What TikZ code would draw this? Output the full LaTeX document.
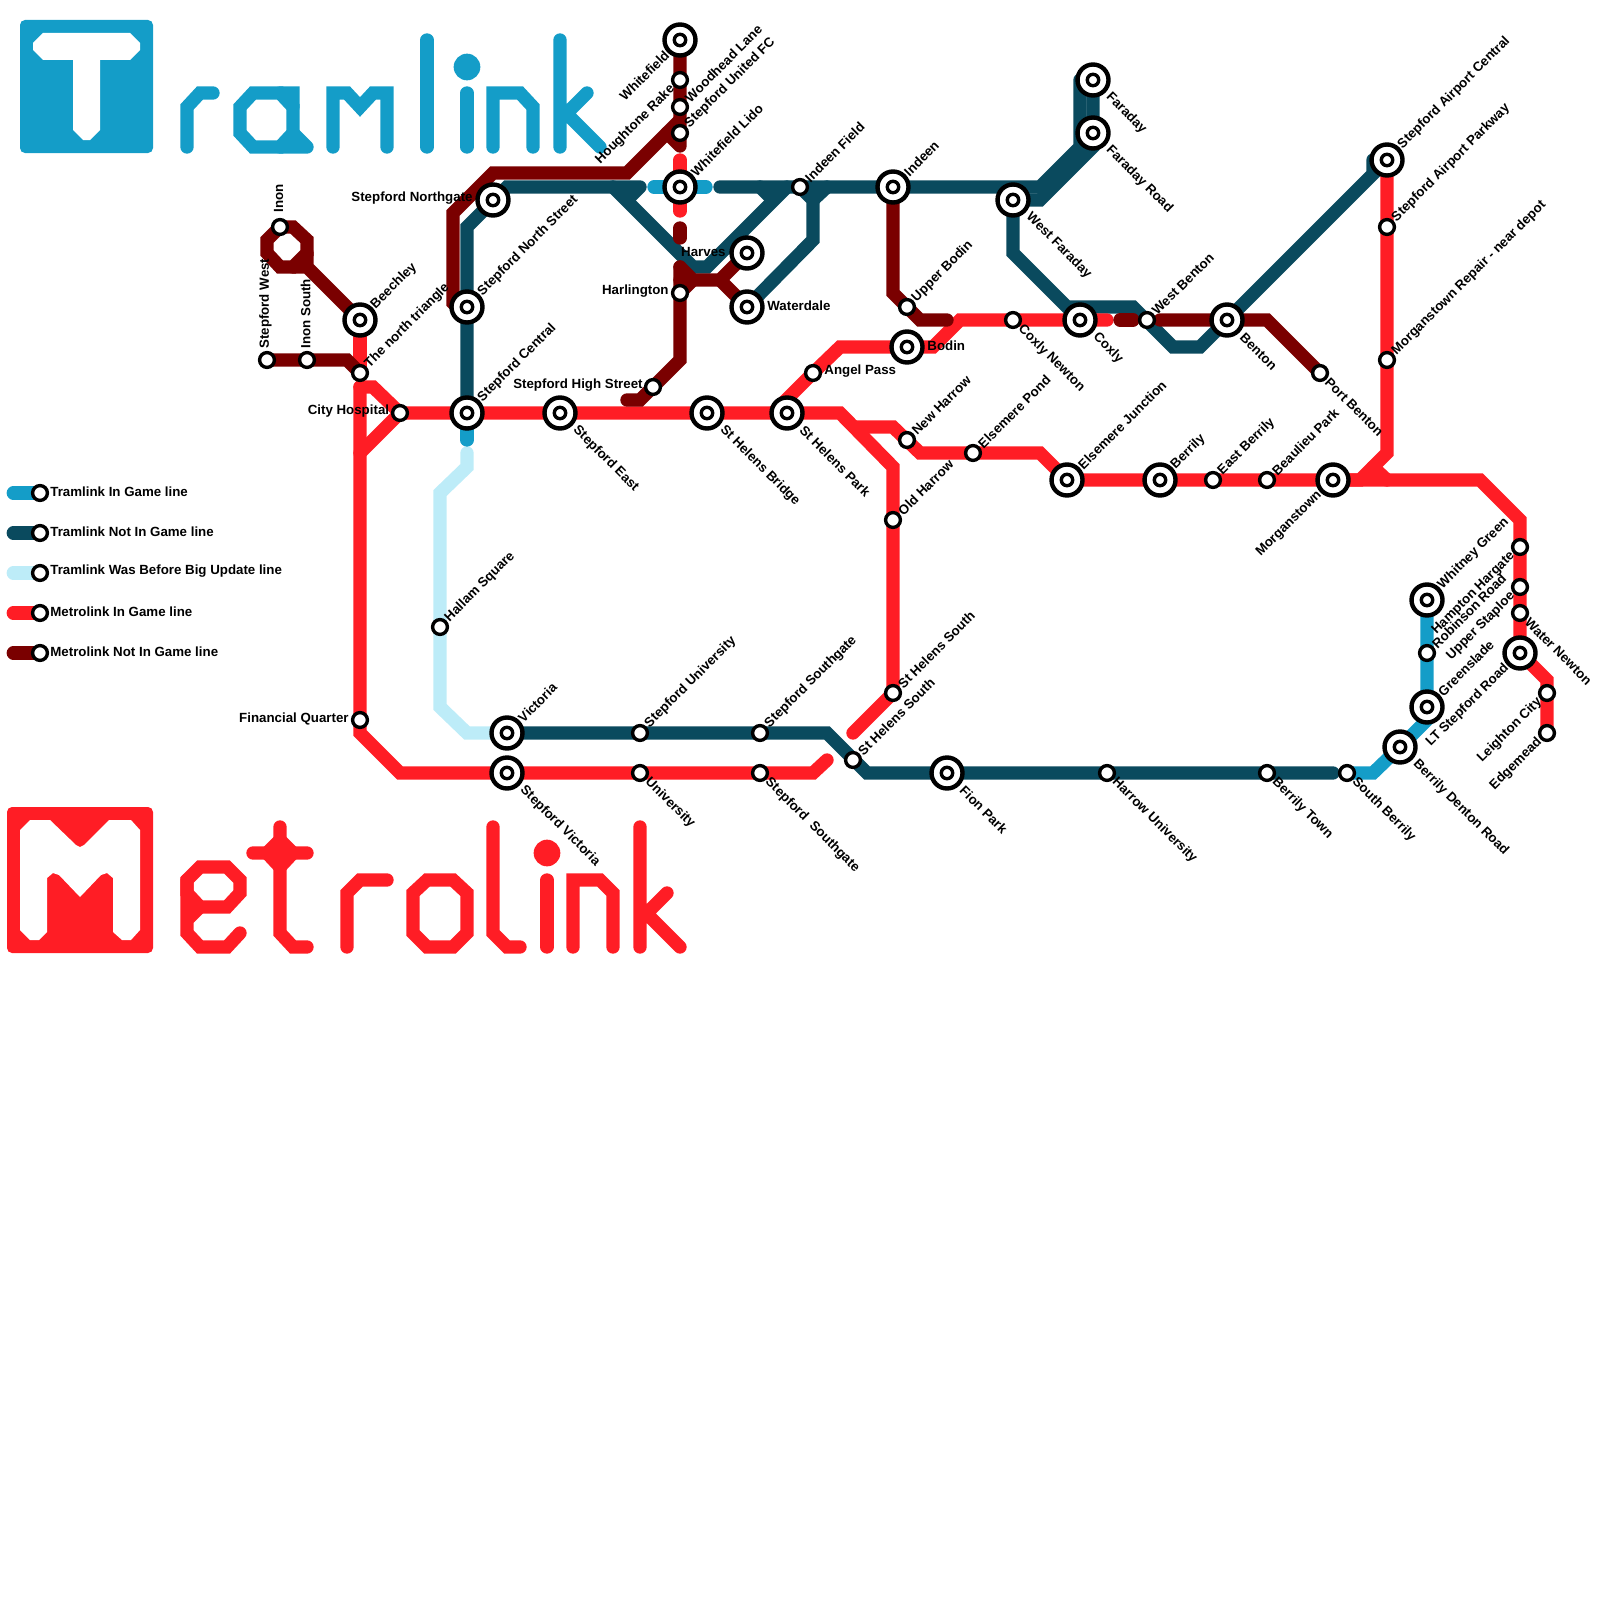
\documentclass[tikz,border=0pt]{standalone}
\usepackage{fontspec}
\setmainfont{Liberation Sans}
\usetikzlibrary{calc}
\definecolor{tblue}{HTML}{149DC8}
\definecolor{tteal}{HTML}{0A4A5E}
\definecolor{tlight}{HTML}{BDECF8}
\definecolor{mred}{HTML}{FF1D25}
\definecolor{mdark}{HTML}{7A0000}
\pgfdeclarelayer{lines}
\pgfsetlayers{lines,main}
\tikzset{
 rail/.style={line width=6.67pt,line cap=round,line join=miter},
 bigst/.style={circle,draw=black,fill=white,line width=2.2pt,minimum size=15.5pt,inner sep=0pt,
   path picture={\draw[line width=1.7pt,fill=white] (path picture bounding box.center) circle (2.85pt);}},
 smallst/.style={circle,draw=black,fill=white,line width=1.7pt,minimum size=7.4pt,inner sep=0pt},
 lbl/.style={font=\bfseries\fontsize{6.65pt}{7.5pt}\selectfont,inner sep=0pt,text=black},
}
\newcommand\B[2]{\node[bigst] (#1) at (#2) {};}
\newcommand\Sm[2]{\node[smallst] (#1) at (#2) {};}
% big/small, direction: up-right, down-right, ends at lower-left, horizontal
\newcommand\LUB[2]{\node[lbl,rotate=45,anchor=west] (l#1) at ($(#1)+(13,-13)$) {#2};}
\newcommand\LUS[2]{\node[lbl,rotate=45,anchor=west] (l#1) at ($(#1)+(7,-7)$) {#2};}
\newcommand\LDB[2]{\node[lbl,rotate=-45,anchor=west] (l#1) at ($(#1)+(15,15)$) {#2};}
\newcommand\LDS[2]{\node[lbl,rotate=-45,anchor=west] (l#1) at ($(#1)+(7,7)$) {#2};}
\newcommand\LEB[2]{\node[lbl,rotate=45,anchor=east] (l#1) at ($(#1)+(-13,13)$) {#2};}
\newcommand\LES[2]{\node[lbl,rotate=45,anchor=east] (l#1) at ($(#1)+(-7,7)$) {#2};}
\newcommand\LL[3]{\node[lbl,anchor=east] (l#1) at ($(#1)+(-#2,-1.5)$) {#3};}
\newcommand\LR[3]{\node[lbl,anchor=west] (l#1) at ($(#1)+(#2,-1.5)$) {#3};}
\newcommand\LV[3]{\node[lbl,rotate=90,anchor=west] (l#1) at ($(#1)+(-1.5,-#2)$) {#3};}
\begin{document}
\begin{tikzpicture}[x=0.5pt,y=-0.5pt]
\path[use as bounding box] (0,0) rectangle (1600,1600);
% stations
\B{whitefield}{680,40}\Sm{woodhead}{680,80}\Sm{unitedfc}{680,107}\Sm{houghtone}{680,133}
\B{lido}{680,187}\Sm{indeenfield}{800,187}\B{indeen}{893,187}\B{westfaraday}{1013,200}
\B{faraday}{1093,80}\B{faradayroad}{1093,133}\B{harves}{747,253}\B{waterdale}{747,307}
\Sm{harlington}{680,293}\Sm{upperbodin}{907,307}\B{bodin}{907,347}\Sm{coxlynewton}{1013,320}
\B{coxly}{1080,320}\Sm{angel}{813,373}\B{shpark}{787,413}\B{shbridge}{707,413}
\B{steast}{560,413}\B{stcentral}{467,413}\Sm{cityhosp}{400,413}\Sm{triangle}{360,373}
\B{beechley}{360,320}\B{stnorthst}{467,307}\B{stnorthgate}{493,200}\Sm{inon}{280,227}
\Sm{stwest}{267,360}\Sm{inonsouth}{307,360}\Sm{sthigh}{653,387}\Sm{newharrow}{907,440}
\Sm{elspond}{973,453}\B{elsjunc}{1067,480}\Sm{oldharrow}{893,520}\Sm{shsouth}{893,693}
\Sm{shsouthb}{853,760}\B{berrily}{1160,480}\Sm{eastberrily}{1213,480}\Sm{beaulieu}{1267,480}
\B{morganstown}{1333,480}\Sm{westbenton}{1147,320}\B{benton}{1227,320}\Sm{portbenton}{1320,373}
\B{airportc}{1387,160}\Sm{airportp}{1387,227}\Sm{repair}{1387,360}
\B{whitney}{1427,600}\Sm{hampton}{1520,547}\Sm{robinson}{1427,653}\Sm{staploe}{1520,587}
\Sm{waternewton}{1520,613}\B{greenslade}{1427,707}\B{ltstepford}{1520,653}\B{denton}{1400,747}
\Sm{leighton}{1547,693}\Sm{edgemead}{1547,733}\Sm{southberrily}{1347,773}\Sm{berrilytown}{1267,773}
\Sm{harrowuni}{1107,773}\B{fion}{947,773}\Sm{southgatea}{760,733}\Sm{southgateb}{760,773}
\Sm{stuni}{640,733}\Sm{uni}{640,773}\B{victoria}{507,733}\B{stvictoria}{507,773}
\Sm{hallam}{440,627}\Sm{financial}{360,720}
\Sm{lega}{40,493}\Sm{legb}{40,533}\Sm{legc}{40,573}\Sm{legd}{40,613}\Sm{lege}{40,653}
% labels
\LEB{whitefield}{Whitefield}\LES{woodhead}{Houghtone Rake}\LUS{unitedfc}{Woodhead Lane}\LUS{houghtone}{Stepford United FC}
\LUB{lido}{Whitefield Lido}\LUS{indeenfield}{Indeen Field}\LUB{indeen}{Indeen}\LDB{westfaraday}{West Faraday}
\LDB{faraday}{Faraday}\LDB{faradayroad}{Faraday Road}\LL{harves}{21}{Harves}\LR{waterdale}{20}{Waterdale}
\LL{harlington}{11}{Harlington}\LUS{upperbodin}{Upper Bodin}\LR{bodin}{20}{Bodin}\LDS{coxlynewton}{Coxly Newton}
\LDB{coxly}{Coxly}\LR{angel}{11}{Angel Pass}\LDB{shpark}{St Helens Park}\LDB{shbridge}{St Helens Bridge}
\LDB{steast}{Stepford East}\LUB{stcentral}{Stepford Central}\LL{cityhosp}{10.5}{City Hospital}\LUS{triangle}{The north triangle}
\LUB{beechley}{Beechley}\LUB{stnorthst}{Stepford North Street}\LL{stnorthgate}{20}{Stepford Northgate}\LV{inon}{14}{Inon}
\LV{stwest}{11}{Stepford West}\LV{inonsouth}{11}{Inon South}\LL{sthigh}{10}{Stepford High Street}\LUS{newharrow}{New Harrow}
\LUS{elspond}{Elsemere Pond}\LUB{elsjunc}{Elsemere Junction}\LUS{oldharrow}{Old Harrow}\LUS{shsouth}{St Helens South}
\LUS{shsouthb}{St Helens South}\LUB{berrily}{Berrily}\LUS{eastberrily}{East Berrily}\LUS{beaulieu}{Beaulieu Park}
\LEB{morganstown}{Morganstown}\LUS{westbenton}{West Benton}\LDB{benton}{Benton}\LDS{portbenton}{Port Benton}
\LUB{airportc}{Stepford Airport Central}\LUS{airportp}{Stepford Airport Parkway}\LUS{repair}{Morganstown Repair - near depot}
\LUB{whitney}{Whitney Green}\LES{hampton}{Hampton Hargate}\LUS{robinson}{Robinson Road}\LES{staploe}{Upper Staploe}
\LDS{waternewton}{Water Newton}\LUB{greenslade}{Greenslade}\LEB{ltstepford}{LT Stepford Road}\LDB{denton}{Berrily Denton Road}
\LES{leighton}{Leighton City}\LES{edgemead}{Edgemead}\LDS{southberrily}{South Berrily}\LDS{berrilytown}{Berrily Town}
\LDS{harrowuni}{Harrow University}\LDB{fion}{Fion Park}\LUS{southgatea}{Stepford Southgate}\LDS{southgateb}{Stepford\ \ Southgate}
\LUS{stuni}{Stepford University}\LDS{uni}{University}\LUB{victoria}{Victoria}\LDB{stvictoria}{Stepford Victoria}
\LUS{hallam}{Hallam Square}\LL{financial}{11}{Financial Quarter}
\LR{lega}{10}{Tramlink In Game line}\LR{legb}{10}{Tramlink Not In Game line}\LR{legc}{10}{Tramlink Was Before Big Update line}\LR{legd}{10}{Metrolink In Game line}\LR{lege}{10}{Metrolink Not In Game line}
\begin{pgfonlayer}{lines}
% legend
\coordinate (sa) at (13.3,493);\coordinate (sb) at (13.3,533);\coordinate (sc) at (13.3,573);\coordinate (sd) at (13.3,613);\coordinate (se) at (13.3,653);
\draw[rail,tblue] (sa) -- (lega.center);
\draw[rail,tteal] (sb) -- (legb.center);
\draw[rail,tlight] (sc) -- (legc.center);
\draw[rail,mred] (sd) -- (legd.center);
\draw[rail,mdark] (se) -- (lege.center);
% Tramlink logo
\begin{scope}[tblue]
\fill[rounded corners=2.5pt] (20,20) rectangle (153,153);
\fill[white] (43,33) -- (130,33) -- (140,43) -- (140,50) -- (130,60) -- (100,60) -- (100,130) -- (90,140) -- (83,140) -- (73,130) -- (73,60) -- (43,60) -- (33,50) -- (33,43) -- cycle;
\draw[rail,tblue] (187,147) -- (187,107) -- (200,93) -- (213,93);
\draw[rail,tblue] (253,93) -- (280,93) -- (293,107) -- (293,133) -- (280,147) -- (253,147) -- (240,133) -- (240,107) -- cycle;
\draw[rail,tblue] (280,93) -- (293,93) -- (293,107) (293,133) -- (307,147) (307,147) -- (280,147);
\draw[rail,tblue] (333,147) -- (333,93) -- (347,93) -- (360,107) -- (373,93) -- (387,93) -- (387,147);
\draw[rail,tblue] (427,40) -- (427,147);
\fill (467,67) circle (6.67pt);
\draw[rail,tblue] (467,93) -- (467,147);
\draw[rail,tblue] (493,147) -- (493,93) -- (520,93) -- (533,107) -- (533,147);
\draw[rail,tblue] (560,40) -- (560,147) (560,120) -- (587,93) (560,107) -- (600,147);
\end{scope}
% Metrolink logo
\begin{scope}[mred]
\fill[rounded corners=2.5pt] (7,807) rectangle (153,953);
\fill[white] (30,820) -- (50,820) -- (76,845) -- (80,847) -- (84,845) -- (109,820) -- (131,820) -- (140,830) -- (140,930) -- (131,940) -- (122,940) -- (113,932) -- (113,878) -- (107,873) -- (101,875) -- (80,897) -- (59,875) -- (53,873) -- (47,878) -- (47,932) -- (39,940) -- (30,940) -- (20,930) -- (20,830) -- cycle;
\draw[rail,mred] (200,867) -- (227,867) -- (240,880) -- (240,893) -- (227,907) -- (200,907) -- (187,893) -- (187,880) -- cycle;
\draw[rail,mred] (187,880) -- (187,933) -- (200,947) -- (227,947) -- (240,933) (200,907) -- (187,920);
\draw[rail,mred] (280,827) -- (280,933) -- (293,947) -- (307,947) (253,853) -- (307,853);
\draw[rail,mred,fill=mred] (280,840) -- (293,853) -- (280,867) -- (267,853) -- cycle;
\draw[rail,mred] (347,947) -- (347,893) -- (360,880) -- (387,880);
\draw[rail,mred] (427,880) -- (453,880) -- (467,893) -- (467,933) -- (453,947) -- (427,947) -- (413,933) -- (413,893) -- cycle;
\draw[rail,mred] (493,827) -- (493,933) -- (507,947) -- (520,947);
\fill (547,853) circle (6.67pt);
\draw[rail,mred] (547,880) -- (547,947);
\draw[rail,mred] (573,947) -- (573,880) -- (600,880) -- (613,893) -- (613,947);
\draw[rail,mred] (640,827) -- (640,947) (640,920) -- (667,893) (640,907) -- (680,947);
\end{scope}
% light Tramlink
\draw[rail,tlight] (467,453) -- (467,467) -- (440,493) -- (hallam.center) -- (440,707) -- (467,733) -- (victoria.center);
% Tramlink in game
\coordinate (bluea) at (467,440);\coordinate (blueb) at (654,187);\coordinate (bluec) at (706,187);
\draw[rail,tblue] (stcentral.center) -- (bluea);
\draw[rail,tblue] (blueb) -- (bluec);
\draw[rail,tblue] (southberrily.center) -- (1373,773) -- (denton.center) -- (1427,720) -- (greenslade.center) -- (robinson.center) -- (whitney.center);
% Tramlink not in game
\draw[rail,tteal] (stcentral.center) -- (stnorthst.center) -- (467,227) -- (507,187) -- (640,187) (640,187) -- (627,200);
\draw[rail,tteal] (613,187) -- (693,267) -- (707,267) -- (787,187);
\draw[rail,tteal] (760,187) -- (773,200);
\draw[rail,tteal] (720,187) -- (indeenfield.center) -- (indeen.center) -- (1040,187) -- (1080,147) -- (1080,80) (1080,80) -- (faraday.center);
\draw[rail,tteal] (westfaraday.center) -- (1040,200) -- (1093,147) -- (faradayroad.center) -- (faraday.center);
\draw[rail,tteal] (waterdale.center) -- (813,240) -- (813,200) -- (indeenfield.center);
\draw[rail,tteal] (813,200) -- (827,187);
\draw[rail,tteal] (westfaraday.center) -- (1013,253) -- (1067,307) -- (1133,307) -- (1173,347) -- (1200,347) -- (benton.center) -- (airportc.center) -- (1373,173) -- (1373,160) (1373,160) -- (airportc.center);
\draw[rail,tteal] (victoria.center) -- (stuni.center) -- (southgatea.center) -- (827,733) -- (867,773) -- (fion.center) -- (harrowuni.center) -- (berrilytown.center) -- (1333,773);
% Metrolink in game
\draw[rail,mred] (beechley.center) -- (triangle.center);
\draw[rail,mred] (360,387) -- (financial.center) -- (360,733) -- (400,773) -- (stvictoria.center) -- (uni.center) -- (southgateb.center) -- (813,773) -- (827,760);
\draw[rail,mred] (360,453) -- (cityhosp.center) -- (373,387) -- (360,387);
\draw[rail,mred] (cityhosp.center) -- (stcentral.center) -- (steast.center) -- (shbridge.center) -- (shpark.center) -- (840,413) -- (893,467) -- (oldharrow.center) -- (shsouth.center) -- (853,733);
\draw[rail,mred] (860,433) -- (867,427) (854,427) -- (893,427) -- (920,453) -- (elspond.center) -- (1040,453) -- (elsjunc.center) -- (berrily.center) -- (eastberrily.center) -- (beaulieu.center) -- (morganstown.center) -- (1480,480) -- (1520,520) -- (hampton.center) -- (staploe.center) -- (waternewton.center) -- (ltstepford.center) -- (1547,680) -- (leighton.center) -- (edgemead.center);
\draw[rail,mred] (773,413) -- (angel.center) -- (840,347) -- (bodin.center) -- (933,347) -- (960,320) -- (coxlynewton.center) -- (coxly.center) -- (1107,320);
\draw[rail,mred] (airportc.center) -- (airportp.center) -- (repair.center) -- (1387,453) -- (1360,480) -- (morganstown.center);
\draw[rail,mred] (1373,467) -- (1387,480);
\draw[rail,mred] (680,160) -- (lido.center) -- (680,211);
% Metrolink not in game
\draw[rail,mdark] (whitefield.center) -- (woodhead.center) -- (unitedfc.center) -- (houghtone.center) -- (680,146) (667,133) -- (680,146);
\draw[rail,mdark] (680,120) -- (627,173) -- (493,173) -- (453,213) -- (453,303) -- (467,317);
\draw[rail,mdark] (680,228) -- (680,238);
\draw[rail,mdark] (680,267) -- (harlington.center) -- (680,360) -- (640,400) -- (627,400);
\draw[rail,mdark] (680,267) -- (693,280) -- (720,280) -- (harves.center);
\draw[rail,mdark] (720,280) -- (waterdale.center) (693,280) -- (harlington.center) (680,280) -- (693,280);
\draw[rail,mdark] (inon.center) -- (293,227) -- (307,240) -- (307,253) -- (293,267) -- (280,267) -- (267,253) -- (267,240) -- cycle;
\draw[rail,mdark] (293,267) -- (307,267) -- (307,253) (307,267) -- (beechley.center);
\draw[rail,mdark] (stwest.center) -- (inonsouth.center) -- (347,360) -- (triangle.center);
\draw[rail,mdark] (indeen.center) -- (893,293) -- (upperbodin.center) -- (920,320) -- (947,320);
\draw[rail,mdark] (1120,320) -- (1133,320);
\draw[rail,mdark] (1160,320) -- (benton.center) -- (1267,320) -- (portbenton.center);
\end{pgfonlayer}
\end{tikzpicture}
\end{document}
